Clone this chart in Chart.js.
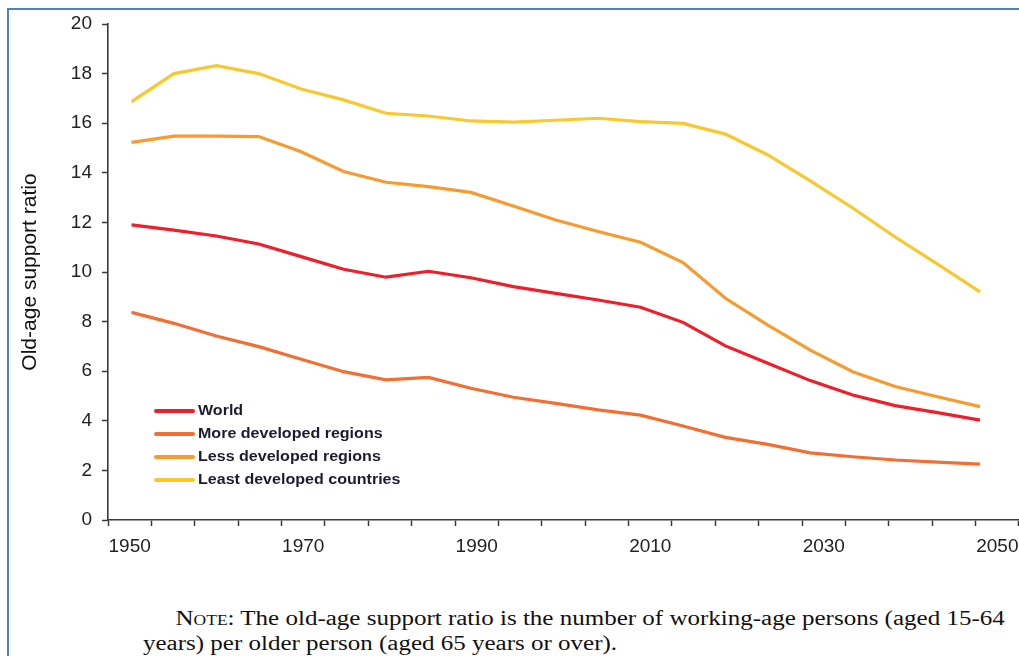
<!DOCTYPE html>
<html>
<head>
<meta charset="utf-8">
<script src="https://cdn.jsdelivr.net/npm/chart.js@4.4.1/dist/chart.umd.min.js"></script>
<style>
  html, body { margin: 0; padding: 0; background: #fff; }
  body { width: 1019px; height: 656px; position: relative; overflow: hidden; }
  #frame {
    position: absolute; left: 7px; top: 8px; width: 1100px; height: 700px;
    border-left: 2px solid #4f81bd; border-top: 2px solid #4f81bd;
  }
  #canvas { position: absolute; left: 0; top: 0; }
  #note {
    position: absolute; left: 143px; top: 606px;
    font-family: "Liberation Serif", "Times New Roman", serif;
    font-size: 20px; line-height: 25px; color: #111; white-space: nowrap;
    transform: scaleX(1.25); transform-origin: 0 0;
  }
  #note .sc { font-variant: small-caps; }
</style>
</head>
<body>
<div id="frame"></div>
<canvas id="canvas" width="1040" height="570"></canvas>
<div id="note">
  <span style="padding-left:26px"><span class="sc">Note</span>: The old-age support ratio is the number of working-age persons (aged 15-64</span><br>years) per older person (aged 65 years or over).
</div>
<script>
// Old-age support ratio chart
const years = [1950, 1955, 1960, 1965, 1970, 1975, 1980, 1985, 1990, 1995, 2000,
  2005, 2010, 2015, 2020, 2025, 2030, 2035, 2040, 2045, 2050];

const world = [11.9, 11.69, 11.45, 11.13, 10.62, 10.11, 9.79, 10.03, 9.77, 9.41, 9.14,
  8.87, 8.58, 7.97, 7.02, 6.32, 5.62, 5.04, 4.61, 4.33, 4.03];
const moreDeveloped = [8.37, 7.93, 7.42, 6.99, 6.48, 5.98, 5.65, 5.75, 5.31, 4.95, 4.7,
  4.44, 4.23, 3.79, 3.33, 3.05, 2.71, 2.55, 2.42, 2.33, 2.25];
const lessDeveloped = [15.23, 15.48, 15.48, 15.46, 14.85, 14.05, 13.62, 13.44, 13.21, 12.66, 12.1,
  11.63, 11.2, 10.38, 8.94, 7.86, 6.85, 5.98, 5.38, 4.97, 4.57];
const leastDeveloped = [16.87, 18.0, 18.32, 18.0, 17.38, 16.94, 16.4, 16.29, 16.09, 16.04, 16.12,
  16.2, 16.06, 15.99, 15.56, 14.72, 13.67, 12.58, 11.41, 10.32, 9.2];

const seriesNames = ["World", "More developed regions", "Less developed regions", "Least developed countries"];
const seriesColors = ["#ed1f2a", "#f26f33", "#f79b30", "#f9c82f"];
const yTicks = [0, 2, 4, 6, 8, 10, 12, 14, 16, 18, 20];
const yearLabels = years.map(String);

function toPoints(values) {
  return values.map((v, i) => ({ x: years[i], y: v }));
}

const allSeries = [world, moreDeveloped, lessDeveloped, leastDeveloped];
const datasets = allSeries.map((values, i) => ({
  label: seriesNames[i],
  data: toPoints(values),
  borderColor: seriesColors[i],
  borderWidth: 3.2,
  pointRadius: 0,
  tension: 0,
  fill: false,
  xAxisID: "x",
  yAxisID: "y",
  order: 4 - i,
}));

const axisColor = "#3a3a3a";
const tickFont = { family: "Liberation Sans, Arial, sans-serif", size: 19 };

// legend drawn inside the plot, lower left
const innerLegend = {
  id: "innerLegend",
  afterDraw(chart) {
    const c = chart.ctx;
    const left = chart.chartArea.left + 48;
    const top = 411;
    const rowGap = 23;
    c.save();
    c.font = "bold 15px Liberation Sans, Arial, sans-serif";
    c.textBaseline = "middle";
    chart.data.datasets.forEach((ds, i) => {
      const y = top + i * rowGap;
      c.strokeStyle = ds.borderColor;
      c.lineWidth = 4;
      c.lineCap = "round";
      c.beginPath();
      c.moveTo(left, y);
      c.lineTo(left + 37, y);
      c.stroke();
      c.fillStyle = "#1c1c30";
      c.save();
      c.translate(left + 42, y);
      c.scale(1.07, 1);
      c.fillText(ds.label, 0, 0);
      c.restore();
    });
    c.restore();
  },
};

const canvas = document.getElementById("canvas");
const chart = new Chart(canvas, {
  type: "line",
  data: { datasets: datasets },
  options: {
    responsive: false,
    animation: false,
    devicePixelRatio: 1,
    layout: { padding: { left: 10, top: 24, right: 21, bottom: 0 } },
    plugins: { legend: { display: false }, tooltip: { enabled: false } },
    scales: {
      x: {
        type: "linear",
        display: false,
        min: 1947.23,
        max: 2054.6,
      },
      x2: {
        type: "category",
        labels: yearLabels,
        position: "bottom",
        offset: true,
        grid: {
          offset: true,
          drawOnChartArea: false,
          tickLength: 6,
          tickWidth: 1.5,
          tickColor: axisColor,
        },
        border: { color: axisColor, width: 1.6 },
        ticks: {
          autoSkip: false,
          maxRotation: 0,
          padding: 9,
          color: "#222",
          font: tickFont,
          callback: function (val, idx) {
            return idx % 4 === 0 ? this.getLabelForValue(val) : "";
          },
        },
        afterFit: (s) => { s.height = 50; },
      },
      y: {
        min: 0,
        max: 20,
        afterBuildTicks: (s) => { s.ticks = yTicks.map((v) => ({ value: v })); },
        grid: {
          drawOnChartArea: false,
          tickLength: 6,
          tickWidth: 1.5,
          tickColor: axisColor,
        },
        border: { color: axisColor, width: 1.6 },
        ticks: { padding: 10, color: "#222", font: tickFont },
        title: {
          display: true,
          text: "Old-age support ratio",
          color: "#111",
          font: { family: "Liberation Sans, Arial, sans-serif", size: 21 },
          padding: { top: 8, bottom: 0 },
        },
        afterFit: (s) => { s.width = 98; },
      },
    },
  },
  plugins: [innerLegend],
});
</script>
</body>
</html>
